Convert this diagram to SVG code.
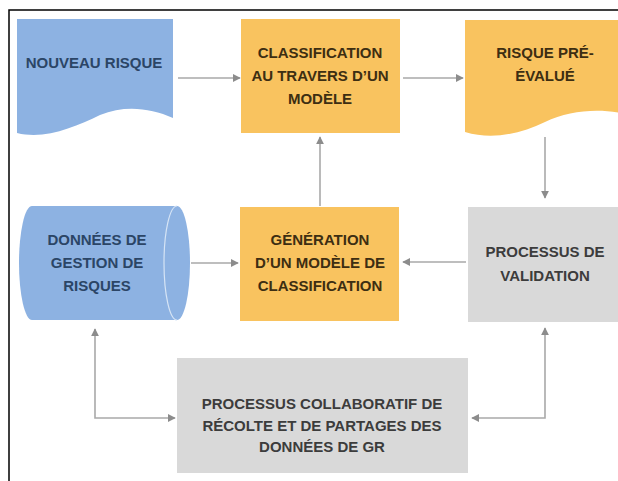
<svg xmlns="http://www.w3.org/2000/svg" width="618" height="481" viewBox="0 0 618 481">
<style>
text{font-family:"Liberation Sans",Arial,sans-serif;font-weight:bold;font-size:15px;text-anchor:middle}
.blue{fill:#8db2e2}
.orange{fill:#f9c35f}
.gray{fill:#d9d9d9}
.tb{fill:#2b4566}
.to{fill:#3d2e12}
.tg{fill:#3c3c3c}
.conn{stroke:#a9a9a9;stroke-width:1.6;fill:none}
</style>
<defs>
<marker id="ah" viewBox="0 0 10 10" refX="9" refY="5" markerWidth="5" markerHeight="5" orient="auto-start-reverse">
<path d="M0,0 L10,5 L0,10 Z" fill="#8c8c8c"/>
</marker>
</defs>
<rect width="618" height="481" fill="#ffffff"/>
<path d="M9,481 V10 H618" fill="none" stroke="#000" stroke-width="1.5"/>

<g id="nouveau-risque">
<path class="blue" d="M17,19 H173 V118 C150,108 125,105 100,115 C75,127 45,140 17,133 Z"/>
<text class="tb" x="94" y="68">NOUVEAU RISQUE</text>
</g>

<g id="classification">
<rect class="orange" x="241" y="19" width="159" height="114"/>
<text class="to" x="320" y="58">CLASSIFICATION</text>
<text class="to" x="320" y="81">AU TRAVERS D’UN</text>
<text class="to" x="320" y="104">MODÈLE</text>
</g>

<g id="risque-pre-evalue">
<path class="orange" d="M465,20 H625 V114 C600,108 570,110 545,122 C520,134 492,140 465,132 Z"/>
<text class="to" x="545" y="58">RISQUE PRÉ-</text>
<text class="to" x="545" y="81">ÉVALUÉ</text>
</g>

<g id="donnees">
<path class="blue" d="M32,206 H177 A13,57 0 0 1 177,320 H32 A13,57 0 0 1 32,206 Z"/>
<path d="M177,206 A13,57 0 0 0 177,320" fill="none" stroke="#d6e4f5" stroke-width="1.2"/>
<text class="tb" x="97" y="245">DONNÉES DE</text>
<text class="tb" x="97" y="268">GESTION DE</text>
<text class="tb" x="97" y="291">RISQUES</text>
</g>

<g id="generation">
<rect class="orange" x="240" y="207" width="159" height="114"/>
<text class="to" x="320" y="245">GÉNÉRATION</text>
<text class="to" x="320" y="268">D’UN MODÈLE DE</text>
<text class="to" x="320" y="291">CLASSIFICATION</text>
</g>

<g id="validation">
<rect class="gray" x="468" y="207" width="160" height="115"/>
<text class="tg" x="545" y="257">PROCESSUS DE</text>
<text class="tg" x="545" y="281">VALIDATION</text>
</g>

<g id="collaboratif">
<rect class="gray" x="177" y="358" width="291" height="115"/>
<text class="tg" x="322" y="409">PROCESSUS COLLABORATIF DE</text>
<text class="tg" x="322" y="431">RÉCOLTE ET DE PARTAGES DES</text>
<text class="tg" x="322" y="452">DONNÉES DE GR</text>
</g>

<g id="connectors">
<path class="conn" d="M178,78 H240" marker-end="url(#ah)"/>
<path class="conn" d="M403,78 H463" marker-end="url(#ah)"/>
<path class="conn" d="M545,137 V198" marker-end="url(#ah)"/>
<path class="conn" d="M466,262 H403" marker-end="url(#ah)"/>
<path class="conn" d="M320,206 V137" marker-end="url(#ah)"/>
<path class="conn" d="M191,263 H238" marker-end="url(#ah)"/>
<path class="conn" d="M95,329 V418 H175" marker-start="url(#ah)" marker-end="url(#ah)"/>
<path class="conn" d="M545,328 V418 H472" marker-start="url(#ah)" marker-end="url(#ah)"/>
</g>
</svg>
